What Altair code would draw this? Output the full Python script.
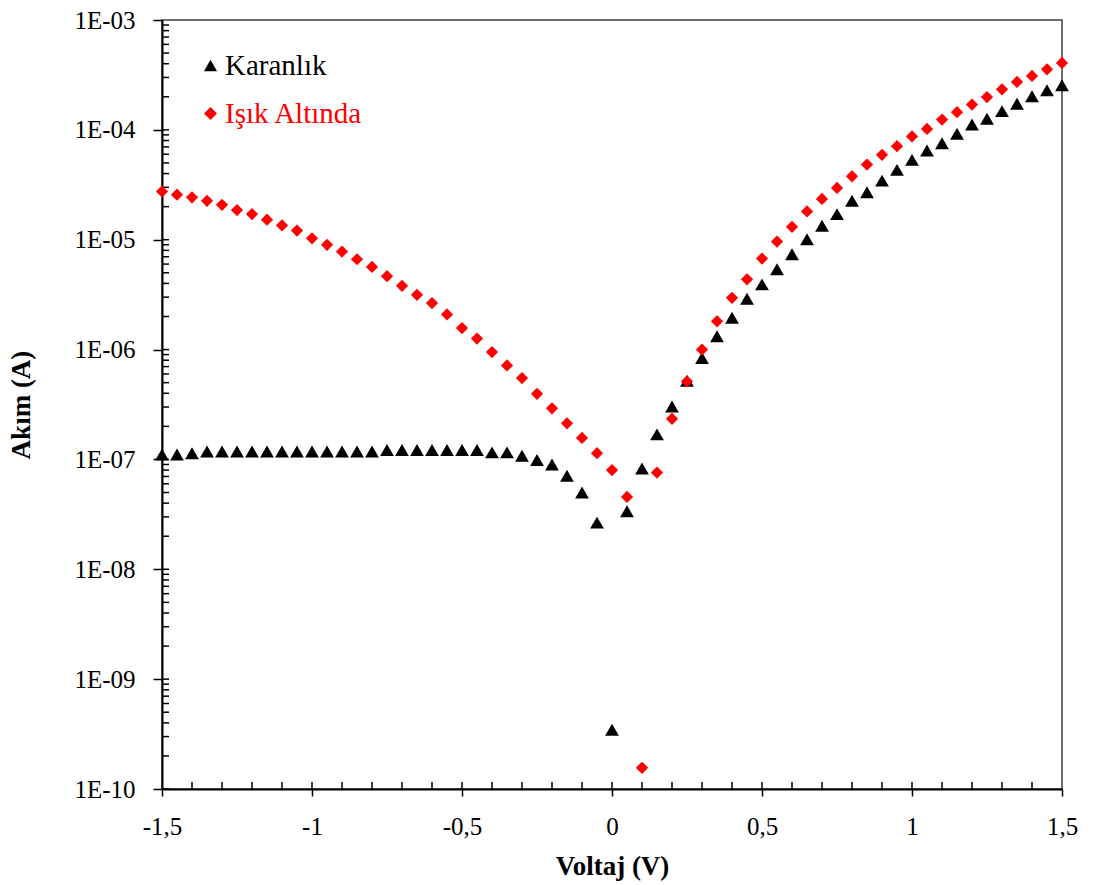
import altair as alt
import pandas as pd

# ---- data ----
voltage = [-1.5, -1.45, -1.4, -1.35, -1.3, -1.25, -1.2, -1.15, -1.1, -1.05,
           -1.0, -0.95, -0.9, -0.85, -0.8, -0.75, -0.7, -0.65, -0.6, -0.55,
           -0.5, -0.45, -0.4, -0.35, -0.3, -0.25, -0.2, -0.15, -0.1, -0.05,
           0.0,
           0.05, 0.1, 0.15, 0.2, 0.25, 0.3, 0.35, 0.4, 0.45, 0.5,
           0.55, 0.6, 0.65, 0.7, 0.75, 0.8, 0.85, 0.9, 0.95, 1.0,
           1.05, 1.1, 1.15, 1.2, 1.25, 1.3, 1.35, 1.4, 1.45, 1.5]

dark_current = [1.11e-7, 1.11e-7, 1.14e-7, 1.18e-7, 1.18e-7, 1.18e-7, 1.18e-7, 1.18e-7, 1.18e-7, 1.18e-7,
                1.18e-7, 1.18e-7, 1.18e-7, 1.18e-7, 1.18e-7, 1.22e-7, 1.22e-7, 1.22e-7, 1.22e-7, 1.22e-7,
                1.22e-7, 1.22e-7, 1.16e-7, 1.16e-7, 1.08e-7, 9.9e-8, 9.0e-8, 7.1e-8, 5.0e-8, 2.66e-8,
                3.46e-10,
                3.38e-8, 8.28e-8, 1.69e-7, 3.03e-7, 5.21e-7, 8.38e-7, 1.32e-6, 1.95e-6, 2.9e-6, 3.92e-6,
                5.38e-6, 7.38e-6, 1.01e-5, 1.34e-5, 1.71e-5, 2.26e-5, 2.70e-5, 3.45e-5, 4.32e-5, 5.33e-5,
                6.49e-5, 7.56e-5, 9.22e-5, 1.12e-4, 1.26e-4, 1.48e-4, 1.73e-4, 2.02e-4, 2.29e-4, 2.55e-4]

light_current = [2.75e-5, 2.57e-5, 2.43e-5, 2.26e-5, 2.08e-5, 1.86e-5, 1.71e-5, 1.52e-5, 1.35e-5, 1.21e-5,
                 1.03e-5, 8.98e-6, 7.80e-6, 6.64e-6, 5.65e-6, 4.65e-6, 3.81e-6, 3.15e-6, 2.65e-6, 2.09e-6,
                 1.57e-6, 1.26e-6, 9.5e-7, 7.18e-7, 5.50e-7, 3.96e-7, 2.92e-7, 2.13e-7, 1.57e-7, 1.14e-7,
                 8.0e-8,
                 4.56e-8, 1.56e-10, 7.6e-8, 2.34e-7, 5.13e-7, 1.0e-6, 1.81e-6, 2.96e-6, 4.36e-6, 6.73e-6,
                 9.62e-6, 1.31e-5, 1.81e-5, 2.35e-5, 2.96e-5, 3.78e-5, 4.83e-5, 5.93e-5, 7.10e-5, 8.71e-5,
                 1.02e-4, 1.24e-4, 1.45e-4, 1.70e-4, 1.99e-4, 2.34e-4, 2.73e-4, 3.10e-4, 3.56e-4, 4.07e-4]

series_names = ["Karanlık", "Işık Altında"]
series_colors = ["#000000", "#ff0000"]
series_shapes = ["triangle-up", "diamond"]
series_sizes = [190, 150]

x_major = [-1.5, -1.0, -0.5, 0.0, 0.5, 1.0, 1.5]
x_inner_ticks = [-1.4, -1.3, -1.2, -1.1, -1.0, -0.9, -0.8, -0.7, -0.6, -0.5,
                 -0.4, -0.3, -0.2, -0.1, 0.0, 0.1, 0.2, 0.3, 0.4, 0.5,
                 0.6, 0.7, 0.8, 0.9, 1.0, 1.1, 1.2, 1.3, 1.4]
y_major = [1e-10, 1e-9, 1e-8, 1e-7, 1e-6, 1e-5, 1e-4, 1e-3]
mantissas = [1, 2, 3, 4, 5, 6, 7, 8, 9]
y_inner_ticks = [m * d for d in y_major[:-1] for m in mantissas]

W, H = 900, 769
FONT = "Liberation Serif"

xscale = alt.Scale(domain=[-1.5, 1.5], nice=False, zero=False)
yscale = alt.Scale(type="log", domain=[1e-10, 1e-3], nice=False)

xaxis = alt.Axis(values=x_major, title="Voltaj (V)",
                 labelExpr="replace(toString(datum.value), '.', ',')",
                 tickSize=7, tickWidth=1.5, domainWidth=2, labelPadding=18, labelFlush=False,
                 titleX=W / 2, titleY=77, titleBaseline="middle", grid=False)
yaxis = alt.Axis(values=y_major, title="Akım (A)",
                 labelExpr="'1E-' + (abs(round(log(datum.value)/LN10)) < 10 ? '0' : '') + abs(round(log(datum.value)/LN10))",
                 tickSize=9, tickWidth=1.5, domainWidth=2, labelPadding=18, labelFlush=False,
                 titleX=-141, titleY=H / 2, titleBaseline="middle", grid=False)

legend = alt.Legend(orient="none", legendX=34, legendY=31, title=None,
                    labelFont=FONT, labelFontSize=29,
                    labelColor={"expr": "datum.label == 'Karanlık' ? '#000000' : '#ff0000'"},
                    labelOffset=0, rowPadding=18, padding=0,
                    symbolStrokeWidth=0, symbolSize=170)

color = alt.Color("series:N", scale=alt.Scale(domain=series_names, range=series_colors), legend=legend)
shape = alt.Shape("series:N", scale=alt.Scale(domain=series_names, range=series_shapes), legend=legend)


def series_layer(name, current, size):
    d = pd.DataFrame({"V": voltage, "I": current, "series": name})
    return alt.Chart(d).mark_point(filled=True, opacity=1, strokeWidth=0, size=size).encode(
        x=alt.X("V:Q", scale=xscale, axis=xaxis),
        y=alt.Y("I:Q", scale=yscale, axis=yaxis),
        color=color, shape=shape,
    )


dark = series_layer(series_names[0], dark_current, series_sizes[0])
light = series_layer(series_names[1], light_current, series_sizes[1])

# inner (minor) ticks, pointing into the plot as in the reference
xt = alt.Chart(pd.DataFrame({"V": x_inner_ticks})).mark_rule(color="black", strokeWidth=1.5).encode(
    x=alt.X("V:Q", scale=xscale, axis=xaxis),
    y=alt.value(H - 7), y2=alt.value(H),
)
yt = alt.Chart(pd.DataFrame({"I": y_inner_ticks})).mark_rule(color="black", strokeWidth=1.5).encode(
    y=alt.Y("I:Q", scale=yscale, axis=yaxis),
    x=alt.value(0), x2=alt.value(7),
)

chart = alt.layer(xt, yt, dark, light).properties(
    width=W, height=H,
    autosize=alt.AutoSizeParams(type="none"),
    padding={"left": 162, "top": 20, "right": 36, "bottom": 96},
    background="white",
).configure_view(
    stroke="#404040", strokeWidth=1.5
).configure_axis(
    labelFont=FONT, labelFontSize=25, labelColor="black",
    titleFont=FONT, titleFontSize=27, titleFontWeight="bold", titleColor="black",
    tickColor="black", domainColor="black",
).configure_legend(
    labelFont=FONT, labelFontSize=29,
)

chart.save("out.html", embed_options={"renderer": "svg", "actions": False})
